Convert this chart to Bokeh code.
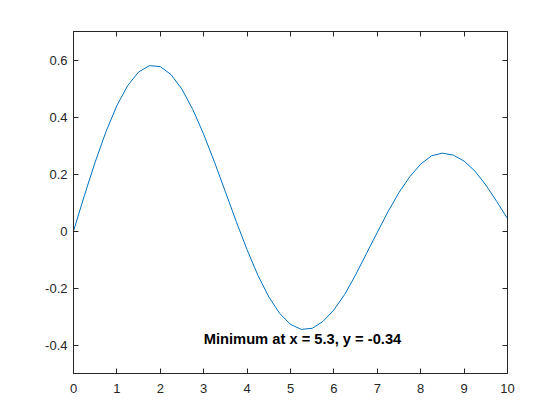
from bokeh.plotting import figure
from bokeh.models import LinearAxis, FixedTicker, Range1d
from bokeh.embed import file_html
from bokeh.resources import INLINE
from bokeh.core.properties import value

# curve samples
x_vals = [0, 0.25, 0.5, 0.75, 1.0, 1.25, 1.5, 1.75, 2.0, 2.25, 2.5, 2.75, 3.0, 3.25,
          3.5, 3.75, 4.0, 4.25, 4.5, 4.75, 5.0, 5.25, 5.5, 5.75, 6.0, 6.25, 6.5, 6.75,
          7.0, 7.25, 7.5, 7.75, 8.0, 8.25, 8.5, 8.75, 9.0, 9.25, 9.5, 9.75, 10.0]
y_vals = [0.0, 0.1240, 0.2423, 0.3492, 0.4401, 0.5106, 0.5579, 0.5802, 0.5767, 0.5484,
          0.4971, 0.4260, 0.3391, 0.2411, 0.1374, 0.0332, -0.0660, -0.1559, -0.2311,
          -0.2892, -0.3276, -0.3453, -0.3414, -0.3170, -0.2767, -0.2223, -0.1538,
          -0.0791, -0.0047, 0.0687, 0.1352, 0.1906, 0.2346, 0.2641, 0.2731, 0.2664,
          0.2453, 0.2101, 0.1613, 0.1040, 0.0435]

x_ticks = [0, 1, 2, 3, 4, 5, 6, 7, 8, 9, 10]
x_tick_labels = ["0", "1", "2", "3", "4", "5", "6", "7", "8", "9", "10"]
y_ticks = [-0.4, -0.2, 0, 0.2, 0.4, 0.6]
y_tick_labels = ["-0.4", "-0.2", "0", "0.2", "0.4", "0.6"]

note_x = [3]
note_y = [-0.38]
note_text = ["Minimum at x = 5.3, y = -0.34"]

AX = "#262626"
FONT = "Liberation Sans"

p = figure(output_backend="svg", toolbar_location=None,
           frame_width=434, frame_height=342,
           min_border_left=73, min_border_right=45, min_border_top=31, min_border_bottom=39,
           x_range=Range1d(0, 10), y_range=Range1d(-0.5, 0.7),
           x_axis_location=None, y_axis_location=None)
p.background_fill_color = "white"
p.border_fill_color = "white"
p.grid.visible = False
p.outline_line_color = AX
p.outline_line_width = 1

def style(ax, ticks, labels, show):
    ax.ticker = FixedTicker(ticks=ticks)
    ax.major_label_overrides = {t: (l if show else "") for t, l in zip(ticks, labels)}
    ax.major_tick_in = 5
    ax.major_tick_out = 0
    ax.minor_tick_in = 0
    ax.minor_tick_out = 0
    ax.axis_line_color = AX
    ax.major_tick_line_color = AX
    ax.major_label_text_font = FONT
    ax.major_label_text_color = AX
    ax.major_label_text_font_size = "13px"
    ax.major_label_standoff = 7

xb = LinearAxis(); style(xb, x_ticks, x_tick_labels, True); xb.major_label_standoff = 10; p.add_layout(xb, "below")
xa = LinearAxis(); style(xa, x_ticks, x_tick_labels, False); p.add_layout(xa, "above")
yl = LinearAxis(); style(yl, y_ticks, y_tick_labels, True); yl.major_label_standoff = 6; p.add_layout(yl, "left")
yr = LinearAxis(); style(yr, y_ticks, y_tick_labels, False); p.add_layout(yr, "right")

p.line(x_vals, y_vals, line_color="#0072BD", line_width=1)

p.text(x=note_x, y=note_y, text=note_text, text_font=value(FONT), text_font_style="bold",
       text_font_size="14.7px", text_color="black", text_baseline="middle", text_align="left")

open("out.html", "w").write(file_html(p, INLINE))
